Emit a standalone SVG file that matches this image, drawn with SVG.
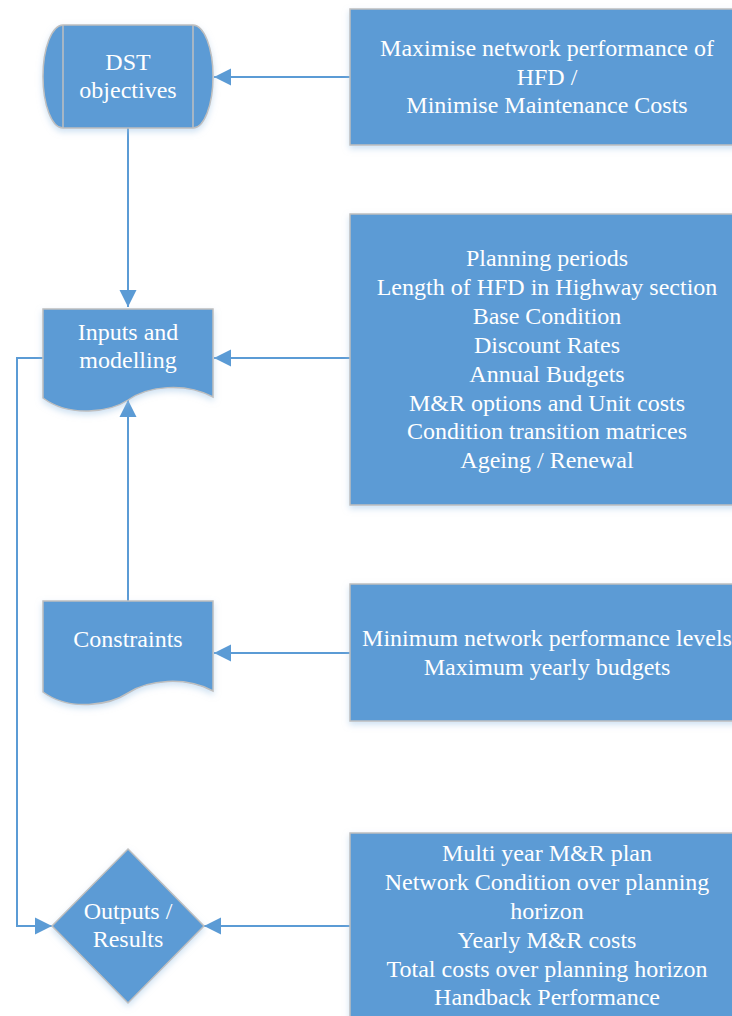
<svg xmlns="http://www.w3.org/2000/svg" width="732" height="1016" viewBox="0 0 732 1016" font-family="'Liberation Serif', 'DejaVu Serif', serif">
<style>
.shape{fill:#5B9BD5;stroke:#BFBFBF;stroke-width:1.5;filter:url(#sh)}
.inner{fill:none;stroke:#BFBFBF;stroke-width:1.5}
text{font-family:'Liberation Serif','DejaVu Serif',serif}
.t{font-size:24px;fill:#FFFFFF;text-anchor:middle}
.a{stroke:#5B9BD5;stroke-width:2;fill:none;marker-end:url(#ah)}
</style>
<defs>
<filter id="sh" x="-10%" y="-10%" width="120%" height="130%">
<feDropShadow dx="0" dy="3" stdDeviation="3" flood-color="#9DC3E6" flood-opacity="0.5"/>
</filter>
<marker id="ah" markerUnits="userSpaceOnUse" markerWidth="18" markerHeight="18" viewBox="0 0 18 18" refX="17" refY="9" orient="auto">
<path d="M0,0.5 L17,9 L0,17.5 Z" fill="#5B9BD5"/>
</marker>
</defs>
<rect width="732" height="1016" fill="#FFFFFF"/>

<g id="connectors">
<line class="a" x1="350" y1="77" x2="214" y2="77"/>
<line class="a" x1="128" y1="128" x2="128" y2="307"/>
<line class="a" x1="350" y1="358" x2="214" y2="358"/>
<line class="a" x1="128" y1="601" x2="128" y2="400"/>
<line class="a" x1="350" y1="653" x2="214" y2="653"/>
<polyline class="a" points="43,358 17,358 17,926 52,926"/>
<line class="a" x1="350" y1="926" x2="204" y2="926"/>
</g>

<g id="dst">
<path class="shape" d="M63,25 H193 A20,51.5 0 0 1 193,128 H63 A20,51.5 0 0 1 63,25 Z"/>
<line class="inner" x1="63" y1="25" x2="63" y2="128"/>
<line class="inner" x1="193" y1="25" x2="193" y2="128"/>
<text class="t" x="128" y="70">DST</text>
<text class="t" x="128" y="98">objectives</text>
</g>

<g id="objectives-box">
<rect class="shape" x="350" y="9" width="393" height="136"/>
<text class="t" x="547" y="56">Maximise network performance of</text>
<text class="t" x="547" y="85">HFD /</text>
<text class="t" x="547" y="113">Minimise Maintenance Costs</text>
</g>

<g id="inputs">
<path class="shape" d="M43,309 H213 V397 C185,382 148,386 128,400 C110,412 70,418 43,398 Z"/>
<text class="t" x="128" y="340">Inputs and</text>
<text class="t" x="128" y="368">modelling</text>
</g>

<g id="inputs-box">
<rect class="shape" x="350" y="214" width="393" height="291"/>
<text class="t" x="547" y="266">Planning periods</text>
<text class="t" x="547" y="295">Length of HFD in Highway section</text>
<text class="t" x="547" y="324">Base Condition</text>
<text class="t" x="547" y="353">Discount Rates</text>
<text class="t" x="547" y="382">Annual Budgets</text>
<text class="t" x="547" y="411">M&amp;R options and Unit costs</text>
<text class="t" x="547" y="439">Condition transition matrices</text>
<text class="t" x="547" y="468">Ageing / Renewal</text>
</g>

<g id="constraints">
<path class="shape" d="M43,601 H213 V691 C185,676 148,680 128,693 C110,705 70,712 43,692 Z"/>
<text class="t" x="128" y="647">Constraints</text>
</g>

<g id="constraints-box">
<rect class="shape" x="350" y="584" width="393" height="137"/>
<text class="t" x="547" y="646">Minimum network performance levels</text>
<text class="t" x="547" y="675">Maximum yearly budgets</text>
</g>

<g id="outputs">
<path class="shape" d="M128,849 L204,926 L128,1003 L52,926 Z"/>
<text class="t" x="128" y="919">Outputs /</text>
<text class="t" x="128" y="947">Results</text>
</g>

<g id="outputs-box">
<rect class="shape" x="350" y="833" width="393" height="200"/>
<text class="t" x="547" y="861">Multi year M&amp;R plan</text>
<text class="t" x="547" y="890">Network Condition over planning</text>
<text class="t" x="547" y="919">horizon</text>
<text class="t" x="547" y="948">Yearly M&amp;R costs</text>
<text class="t" x="547" y="977">Total costs over planning horizon</text>
<text class="t" x="547" y="1005">Handback Performance</text>
</g>
</svg>
